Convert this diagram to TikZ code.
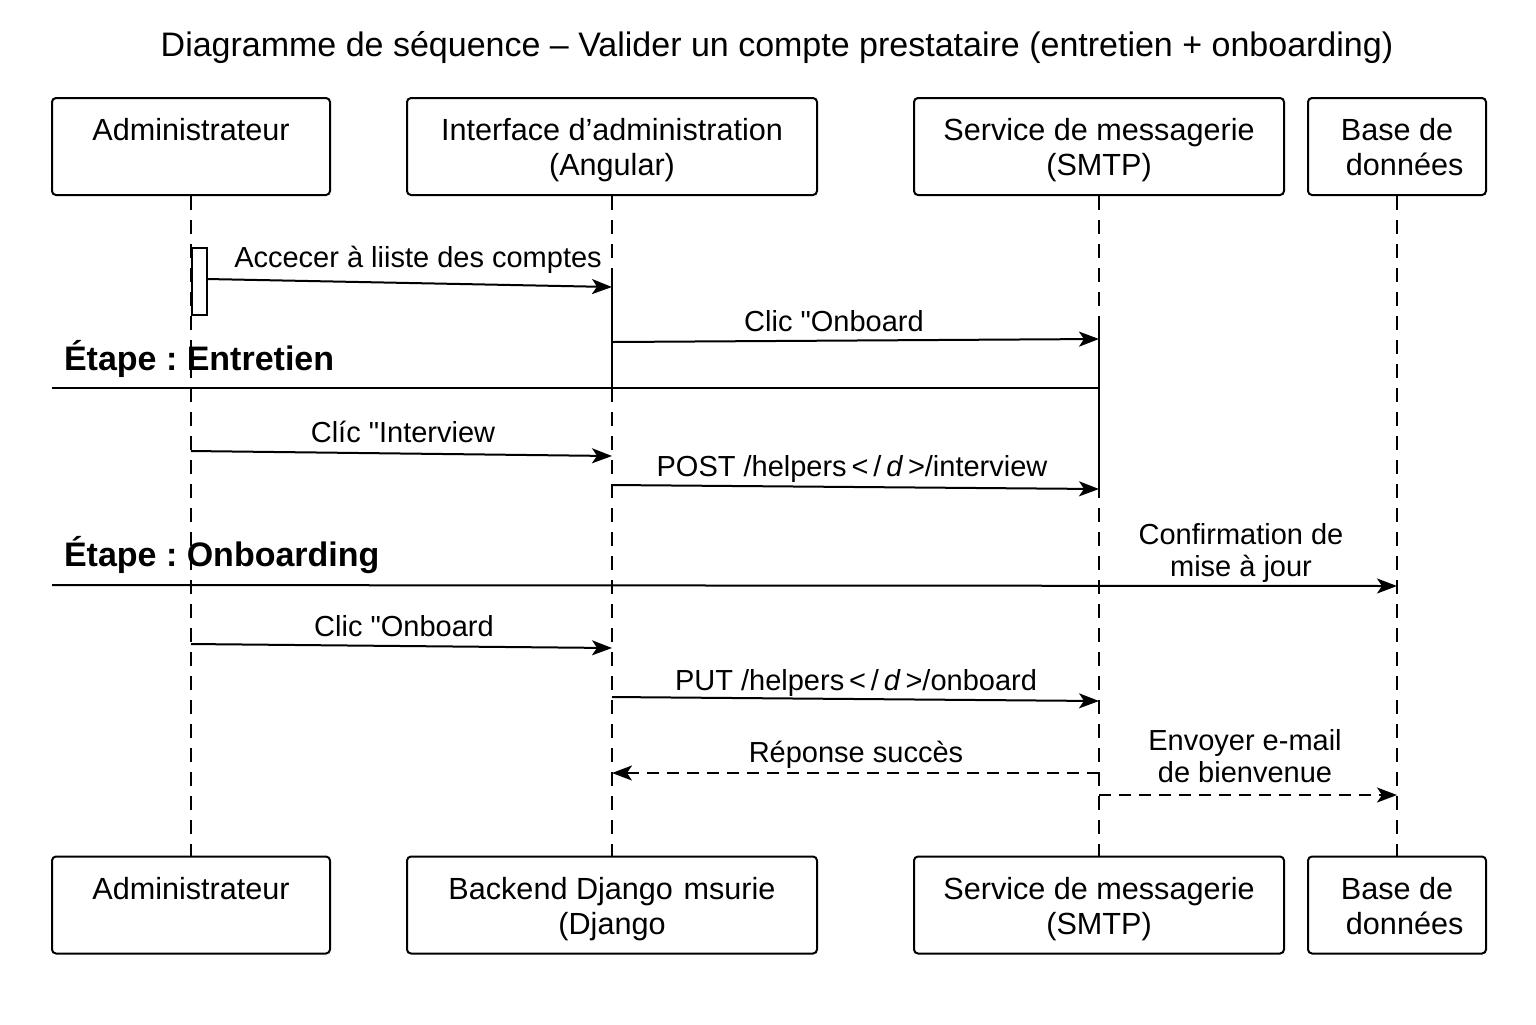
\documentclass[tikz,border=0pt]{standalone}
\usepackage{fontspec}
\setmainfont{Liberation Sans}
\usetikzlibrary{arrows.meta}

\newcommand{\boxlines}[2]{\strut #1\\\strut #2}

\tikzset{every picture/.style={line width=1pt}}
\tikzset{
  actorbox/.style={draw, rounded corners=2pt, minimum height=48.5pt, inner sep=0pt},
  actortext/.style={inner sep=0pt, align=center, yshift=-2.25pt, font=\fontsize{15.3}{17.5}\selectfont},
  lifeline/.style={dash pattern=on 7pt off 5pt},
  msg/.style={-{Stealth[length=10pt,width=7.5pt,inset=2.5pt]}},
  reply/.style={msg, dash pattern=on 6pt off 4pt},
  msglabel/.style={inner sep=0pt, anchor=base, font=\fontsize{14.5}{16.5}\selectfont},
  twolabel/.style={inner sep=0pt, align=center, font=\fontsize{14.5}{16}\selectfont},
  stagelabel/.style={inner sep=0pt, anchor=base west, font=\bfseries\fontsize{17}{20}\selectfont},
}

\begin{document}
\frenchspacing
\begin{tikzpicture}[x=0.5pt,y=0.5pt,yscale=-1,xscale=1]
\useasboundingbox (0,0) rectangle (1536,1024);

%Title
\node [anchor=base, inner sep=0pt, font=\fontsize{17}{20}\selectfont] (title) at (777,56) {Diagramme de séquence – Valider un compte prestataire (entretien + onboarding)};

%Shape: participants top
\node [actorbox, minimum width=139pt] (adminTop) at (191,146.5) {};
\node [actorbox, minimum width=205pt] (uiTop) at (612,146.5) {};
\node [actorbox, minimum width=185pt] (smtpTop) at (1099,146.5) {};
\node [actorbox, minimum width=89pt] (dbTop) at (1397,146.5) {};
\node [actortext] (adminTopTxt) at (adminTop) {\boxlines{Administrateur}{}};
\node [actortext] (uiTopTxt) at (uiTop) {\boxlines{Interface d’administration}{(Angular)}};
\node [actortext] (smtpTopTxt) at (smtpTop) {\boxlines{Service de messagerie}{(SMTP)}};
\node [actortext] (dbTopTxt) at (dbTop) {\boxlines{Base de}{\hspace{0.5em}données}};
%Shape: participants bottom
\node [actorbox, minimum width=139pt] (adminBot) at (191,905) {};
\node [actorbox, minimum width=205pt] (backBot) at (612,905) {};
\node [actorbox, minimum width=185pt] (smtpBot) at (1099,905) {};
\node [actorbox, minimum width=89pt] (dbBot) at (1397,905) {};
\node [actortext] (adminBotTxt) at (adminBot) {\boxlines{Administrateur}{}};
\node [actortext] (backBotTxt) at (backBot) {\boxlines{Backend Django\hspace{0.35em}msurie}{(Django}};
\node [actortext] (smtpBotTxt) at (smtpBot) {\boxlines{Service de messagerie}{(SMTP)}};
\node [actortext] (dbBotTxt) at (dbBot) {\boxlines{Base de}{\hspace{0.5em}données}};

%Lifelines
\draw [lifeline] (adminTop.south) -- (adminBot.north);
\draw [lifeline] (uiTop.south) -- (backBot.north);
\draw [lifeline] (smtpTop.south) -- (smtpBot.north);
\draw [lifeline] (dbTop.south) -- (dbBot.north);
\draw (612,275) -- (612,388);
\draw (1099,327) -- (1099,498);

%Activation
\draw [fill=white] (192,248) rectangle (207,315);

%Message end points
\coordinate (m1s) at (207,279);  \coordinate (m1e) at (612,287);
\coordinate (m2s) at (612,342);  \coordinate (m2e) at (1099,339);
\coordinate (e1s) at (52,388);   \coordinate (e1e) at (1099,388);
\coordinate (m3s) at (191,451);  \coordinate (m3e) at (612,456);
\coordinate (m4s) at (612,485);  \coordinate (m4e) at (1099,489);
\coordinate (e2s) at (52,585);   \coordinate (e2e) at (1397,586);
\coordinate (m5s) at (191,644);  \coordinate (m5e) at (612,648);
\coordinate (m6s) at (612,697);  \coordinate (m6e) at (1099,701);
\coordinate (r1s) at (1099,773); \coordinate (r1e) at (612,773);
\coordinate (r2s) at (1099,795); \coordinate (r2e) at (1397,795);

%Messages
\draw [msg] (m1s) -- (m1e);
\draw [msg] (m2s) -- (m2e);
\draw (e1s) -- (e1e);
\draw [msg] (m3s) -- (m3e);
\draw [msg] (m4s) -- (m4e);
\draw [msg] (e2s) -- (e2e);
\draw [msg] (m5s) -- (m5e);
\draw [msg] (m6s) -- (m6e);
\draw [reply] (r1s) -- (r1e);
\draw [reply] (r2s) -- (r2e);

%Labels
\node [msglabel] (l1) at (418,267) {Accecer à liiste des comptes};
\node [msglabel] (l2) at (834,331) {Clic \textquotedbl Onboard};
\node [stagelabel] (s1) at (63,370) {Étape : Entretien};
\node [msglabel] (l3) at (403,442) {Clíc \textquotedbl Interview};
\node [msglabel] (l4) at (852,476) {POST /helpers\,<\,/\,\textit{d}\,>/interview};
\node [stagelabel] (s2) at (63,566) {Étape : Onboarding};
\node [twolabel] (l5) at (1241,553) {Confirmation de\\mise à jour};
\node [msglabel] (l6) at (404,636) {Clic \textquotedbl Onboard};
\node [msglabel] (l7) at (856,690) {PUT /helpers\,<\,/\,\textit{d}\,>/onboard};
\node [msglabel] (l8) at (856,762) {Réponse succès};
\node [twolabel] (l9) at (1245,756) {Envoyer e-mail\\de bienvenue};

\end{tikzpicture}
\end{document}
